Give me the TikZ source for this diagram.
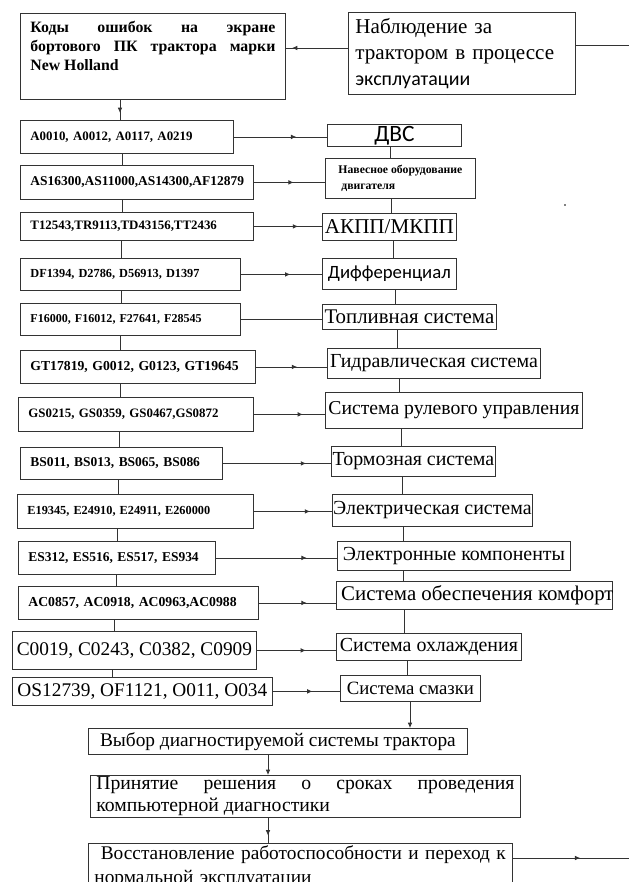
\documentclass[tikz,border=0pt]{standalone}
\usepackage{fontspec}
\setmainfont{Liberation Serif}
\newfontfamily\calibri{Carlito}
\usetikzlibrary{arrows.meta,decorations.markings}

\tikzset{
  wh/.style 2 args={minimum width=\fpeval{#1*0.03}cm, minimum height=\fpeval{#2*0.03}cm},
  codebox/.style 2 args={draw=black!80, line width=0.7pt, anchor=north west, inner xsep=0.3cm, inner ysep=0pt,
    text width=\fpeval{(#1-20)*0.03}cm, minimum height=\fpeval{#2*0.03}cm, align=left,
    font=\bfseries\fontsize{11}{13}\selectfont},
  sysbox/.style={draw=black!80, line width=0.7pt, anchor=north west, inner sep=0pt, font=\fontsize{17}{19}\selectfont},
  link/.style={draw=black!80, line width=0.7pt},
  midtip/.style={decoration={markings, mark=at position #1 with {\arrow{Latex[length=4.5pt,width=4pt]}}}, postaction={decorate}},
}

\begin{document}
\begin{tikzpicture}[x=0.03cm,y=-0.03cm]
\useasboundingbox (0,0) rectangle (629,882);

% top row
\node[codebox={265}{86}, align=justify, inner ysep=0.18cm, text depth=\fpeval{60*0.03}cm,
  font=\bfseries\fontsize{13.5}{16.5}\selectfont] (codes) at (20,13)
  {Коды ошибок на экране\linebreak бортового ПК трактора марки\linebreak New Holland};
\node[sysbox, wh={227}{82}, align=left, inner xsep=0.21cm, text width=\fpeval{213*0.03}cm,
  font=\fontsize{18}{22}\selectfont] (watch) at (348,12)
  {Наблюдение за\\трактором в процессе\\{\calibri\fontsize{17}{22}\selectfont эксплуатации}};
\coordinate (ya) at (0,48);
\coordinate (outT) at (629,45);
\draw[link, midtip=0.9] (watch.west |- ya) -- (codes.east |- ya);
\draw[link] (watch.east |- outT) -- (outT);

% error codes
\node[codebox={213}{33}] (c1) at (20,120) {A0010, A0012, A0117, A0219};
\node[codebox={233}{34}, font=\bfseries\fontsize{11.5}{13}\selectfont] (c2) at (20,165) {AS16300,AS11000,AS14300,AF12879};
\node[codebox={233}{28}] (c3) at (20,212) {T12543,TR9113,TD43156,TT2436};
\node[codebox={220}{32}, font=\bfseries\fontsize{10.5}{13}\selectfont] (c4) at (20,258) {DF1394, D2786, D56913, D1397};
\node[codebox={220}{32}, font=\bfseries\fontsize{10.3}{13}\selectfont] (c5) at (20,303) {F16000, F16012, F27641, F28545};
\node[codebox={235}{33}, font=\bfseries\fontsize{11.7}{13}\selectfont] (c6) at (20,350) {GT17819, G0012, G0123, GT19645};
\node[codebox={235}{34}] (c7) at (18,397) {GS0215, GS0359, GS0467,GS0872};
\node[codebox={202}{32}, font=\bfseries\fontsize{11.5}{13}\selectfont] (c8) at (20,447) {BS011, BS013, BS065, BS086};
\node[codebox={236}{34}, font=\bfseries\fontsize{10.5}{13}\selectfont] (c9) at (17,494) {E19345, E24910, E24911, E260000};
\node[codebox={197}{33}, font=\bfseries\fontsize{11.5}{13}\selectfont] (c10) at (18,541) {ES312, ES516, ES517, ES934};
\node[codebox={240}{33}, font=\bfseries\fontsize{11.7}{13}\selectfont] (c11) at (18,586) {AC0857, AC0918, AC0963,AC0988};
\node[sysbox, wh={244}{38}, font=\fontsize{16.5}{19}\selectfont] (c12) at (12,631) {C0019, C0243, C0382, C0909};
\node[sysbox, wh={260}{28}, font=\fontsize{16.5}{19}\selectfont] (c13) at (12,677) {OS12739, OF1121, O011, O034};

% tractor systems
\node[sysbox, wh={134}{22}, font=\calibri\fontsize{20}{22}\selectfont] (s1) at (327,124) {ДВС};
\node[sysbox, wh={150}{40}, align=left, inner xsep=0.15cm, font=\bfseries\fontsize{10}{13}\selectfont] (s2) at (325,158) {Навесное оборудование\\\ двигателя};
\node[sysbox, wh={134}{27}, font=\fontsize{18}{20}\selectfont] (s3) at (322,213) {АКПП/МКПП};
\node[sysbox, wh={134}{31}, font=\calibri\fontsize{16}{19}\selectfont] (s4) at (322,258) {Дифференциал};
\node[sysbox, wh={174}{25}, font=\fontsize{17.8}{19}\selectfont] (s5) at (322,304) {Топливная система};
\node[sysbox, wh={213}{30}] (s6) at (327,348) {Гидравлическая система};
\node[sysbox, wh={257}{36}, font=\fontsize{16.8}{19}\selectfont] (s7) at (325,392) {Система рулевого управления};
\node[sysbox, wh={164}{30}] (s8) at (331,446) {Тормозная система};
\node[sysbox, wh={200}{32}] (s9) at (332,494) {Электрическая система};
\node[sysbox, wh={233}{29}] (s10) at (337,541) {Электронные компоненты};
\node[sysbox, wh={276}{28}] (s11) at (336,581) {};
\begin{scope}
  \clip (s11.south west) rectangle (s11.north east);
  \node[anchor=west, inner sep=0pt, font=\fontsize{17.8}{19}\selectfont] (s11t) at ([xshift=0.15cm]s11.west) {Система обеспечения комфорта};
\end{scope}
\node[sysbox, wh={185}{27}] (s12) at (336,633) {Система охлаждения};
\node[sysbox, wh={140}{26}, font=\fontsize{16}{19}\selectfont] (s13) at (340,675) {Система смазки};

% code -> system
\draw[link, midtip=0.67] (c1.east) -- (c1.east -| s1.west);
\draw[link, midtip=0.56] (c2.east) -- (c2.east -| s2.west);
\draw[link, midtip=0.65] (c3.east) -- (c3.east -| s3.west);
\draw[link, midtip=0.61] (c4.east) -- (c4.east -| s4.west);
\draw[link] (c5.east) -- (c5.east -| s5.west);
\draw[link, midtip=0.58] (c6.east) -- (c6.east -| s6.west);
\draw[link, midtip=0.69] (c7.east) -- (c7.east -| s7.west);
\draw[link, midtip=0.77] (c8.east) -- (c8.east -| s8.west);
\draw[link, midtip=0.72] (c9.east) -- (c9.east -| s9.west);
\draw[link, midtip=0.75] (c10.east) -- (c10.east -| s10.west);
\draw[link, midtip=0.62] (c11.east) -- (c11.east -| s11.west);
\draw[link, midtip=0.62] (c12.east) -- (c12.east -| s12.west);
\draw[link, midtip=0.59] (c13.east) -- (c13.east -| s13.west);

% spines
\coordinate (sp0) at (120,0);
\draw[link, midtip=0.65] (sp0 |- codes.south) -- (sp0 |- c1.north);
\foreach \a/\b/\x in {c1/c2/122, c2/c3/122, c3/c4/121, c4/c5/121, c5/c6/120, c6/c7/120,
                      c7/c8/119, c8/c9/118, c9/c10/117, c10/c11/116, c11/c12/114, c12/c13/112} {
  \coordinate (sp) at (\x,0);
  \draw[link] (sp |- \a.south) -- (sp |- \b.north);
}
\foreach \a/\b/\x in {s1/s2/390, s2/s3/391, s3/s4/393, s4/s5/395, s5/s6/397, s6/s7/399,
                      s7/s8/401, s8/s9/402, s9/s10/403, s10/s11/403, s11/s12/404, s12/s13/407} {
  \coordinate (sp) at (\x,0);
  \draw[link] (sp |- \a.south) -- (sp |- \b.north);
}

% decision steps
\node[sysbox, wh={379}{26}, font=\fontsize{16.5}{19}\selectfont] (choice) at (88,728) {Выбор диагностируемой системы трактора};
\node[sysbox, align=justify, inner xsep=0.18cm, inner ysep=0.05cm, text width=\fpeval{418*0.03}cm,
  font=\fontsize{16.8}{18.5}\selectfont] (decide) at (90,775)
  {Принятие решения о сроках проведения\linebreak компьютерной диагностики};
\node[sysbox, align=left, inner xsep=0.18cm, inner ysep=0.06cm, text width=\fpeval{412*0.03}cm,
  text depth=\fpeval{38*0.03}cm, font=\fontsize{16.5}{20.5}\selectfont] (restore) at (88,843)
  {\ Восстановление работоспособности и переход к\\нормальной эксплуатации};

\coordinate (sp1) at (410,0);
\coordinate (sp2) at (268,0);
\coordinate (outB) at (629,858);
\draw[link, -{Latex[length=4.5pt,width=4pt]}] (sp1 |- s13.south) -- (sp1 |- choice.north);
\draw[link, -{Latex[length=4.5pt,width=4pt]}] (sp2 |- choice.south) -- (sp2 |- decide.north);
\draw[link, midtip=0.7] (sp2 |- decide.south) -- (sp2 |- restore.north);
\draw[link, midtip=0.58] (restore.east |- outB) -- (outB);

\fill (565,205) circle (0.8pt);
\end{tikzpicture}
\end{document}
